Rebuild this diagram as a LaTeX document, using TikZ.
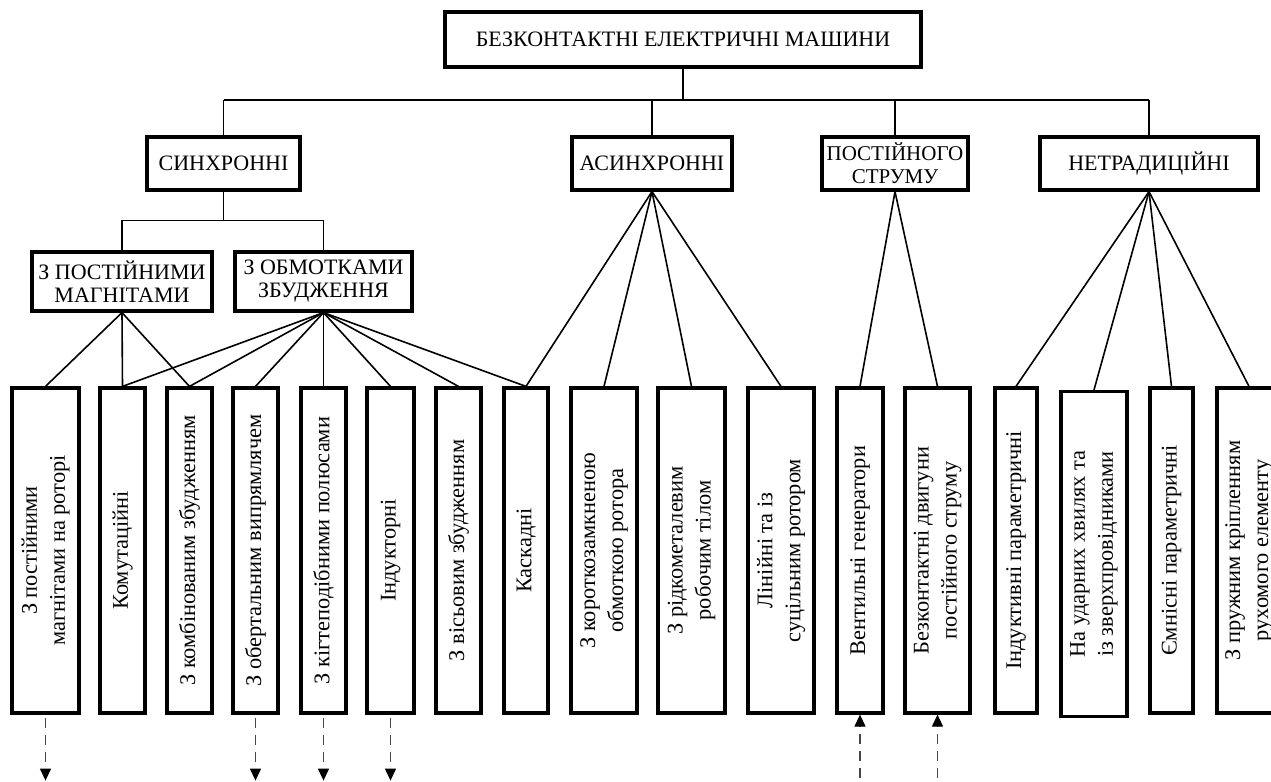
\documentclass[tikz,border=0pt]{standalone}
\usepackage{fontspec}
\setmainfont{Liberation Serif}
\usetikzlibrary{arrows.meta}

\begin{document}
\begin{tikzpicture}[x=0.5pt,y=-0.5pt]
        \tikzstyle{every node}=[font=\fontsize{11}{11.5}\selectfont, inner sep=1pt, align=center]
        \tikzstyle{head}=[draw, line width=2pt, minimum width=238pt, minimum height=27.5pt]
        \tikzstyle{group}=[draw, line width=1.6pt, minimum height=26.5pt]
        \tikzstyle{sub}=[draw, line width=1.6pt, minimum height=29.5pt]
        \tikzstyle{leaf}=[draw, line width=1.6pt, minimum height=162.5pt]
        \tikzstyle{vtext}=[rotate=90, font=\fontsize{11.2}{14}\selectfont]
        \tikzstyle{link}=[line width=0.8pt]
        \tikzstyle{further}=[gray!55!black, line width=0.6pt, dash pattern=on 5pt off 3.5pt, -{Triangle[length=6pt,width=5.5pt,black]}]
        \useasboundingbox (0,0) rectangle (1271,782);
        % upper levels
        \node[head] (top) at (683,39.5) {БЕЗКОНТАКТНІ ЕЛЕКТРИЧНІ МАШИНИ};
        \node[group, minimum width=76.5pt] (sync) at (223.5,163.5) {СИНХРОННІ};
        \node[group, minimum width=80pt] (async) at (652,163.5) {АСИНХРОННІ};
        \node[group, minimum width=73pt, font=\fontsize{10.5}{11.5}\selectfont] (dc) at (895,163.5) {ПОСТІЙНОГО\\СТРУМУ};
        \node[group, minimum width=109pt] (nontrad) at (1149,163.5) {НЕТРАДИЦІЙНІ};
        \node[sub, minimum width=90pt] (pm) at (122,281.5) {З ПОСТІЙНИМИ\\МАГНІТАМИ};
        \node[sub, minimum width=88.5pt] (ex) at (323.5,281.5) {З ОБМОТКАМИ\\ЗБУДЖЕННЯ};
        % lower level, vertical boxes
        \foreach \n/\x/\y/\w/\txt in {
            1/45.5/550.5/33.5/{З постійними\\магнітами на роторі},
            2/122.5/550.5/22.5/{Комутаційні},
            3/189.5/550.5/22.5/{З комбінованим збудженням},
            4/255.5/550.5/22.5/{З обертальним випрямлячем},
            5/323.5/550.5/22.5/{З кігтеподібними полюсами},
            6/390.5/550.5/23.5/{Індукторні},
            7/458.5/550.5/22.5/{З вісьовим збудженням},
            8/526/550.5/22/{Каскадні},
            9/604/550.5/33/{З короткозамкненою\\обмоткою ротора},
            10/691.5/550.5/33.5/{З рідкометалевим\\робочим тілом},
            11/781/550.5/33/{Лінійні та із\\суцільним ротором},
            12/860/550.5/23/{Вентильні генератори},
            13/937.5/550.5/32.5/{Безконтактні двигуни\\постійного струму},
            14/1016/550.5/21/{Індуктивні параметричні},
            15/1094/554/33/{На ударних хвилях та\\із зверхпровідниками},
            16/1171.5/550.5/21.5/{Ємнісні параметричні},
            17/1249/550.5/32/{З пружним кріпленням\\рухомого елементу}}
        {
            \node[leaf, minimum width=\w pt] (b\n) at (\x,\y) {};
            \node[vtext] (t\n) at (b\n) {\txt};
        }
        % connectors
        \draw[link] (top.south) -- ++(0,31) coordinate (bus);
        \draw[link] (sync.north |- bus) -- (nontrad.north |- bus);
        \foreach \g in {sync,async,dc,nontrad}
            \draw[link] (\g.north) -- (\g.north |- bus);
        \draw[link] (sync.south) -- ++(0,29) coordinate (sbus);
        \draw[link] (pm.north) -- (pm.north |- sbus) -- (ex.north |- sbus) -- (ex.north);
        \foreach \b in {1,2,3} \draw[link] (pm.south) -- (b\b.north);
        \foreach \b in {2,...,8} \draw[link] (ex.south) -- (b\b.north);
        \foreach \b in {8,...,11} \draw[link] (async.south) -- (b\b.north);
        \foreach \b in {12,13} \draw[link] (dc.south) -- (b\b.north);
        \foreach \b in {14,...,17} \draw[link] (nontrad.south) -- (b\b.north);
        % links to other diagrams
        \foreach \b in {1,4,5,6} {
            \coordinate (out\b) at ([yshift=-33pt]b\b.south);
            \draw[further] ([yshift=-1.5pt]b\b.south) -- (out\b);
        }
        \foreach \b in {12,13} {
            \coordinate (in\b) at ([yshift=-40pt]b\b.south);
            \draw[further] (in\b) -- (b\b.south);
        }
\end{tikzpicture}
\end{document}
